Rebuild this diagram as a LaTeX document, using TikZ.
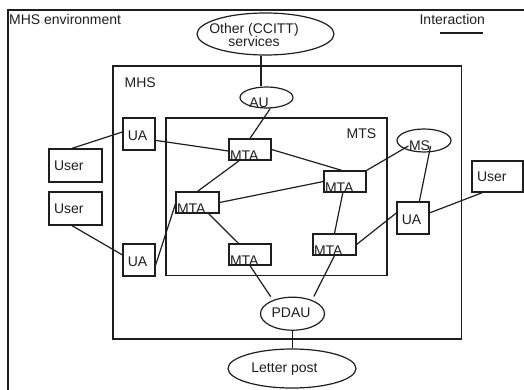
\documentclass[tikz,border=0pt]{standalone}
\usepackage{fontspec}
\setmainfont{Liberation Sans}
\usetikzlibrary{shapes.geometric,calc}
\definecolor{ink}{HTML}{1E1E1E}
\newcommand\tightlines{\fontsize{14}{13}\selectfont\lineskiplimit=-10pt\relax}
\begin{document}
\begin{tikzpicture}[x=1pt,y=-1pt,line width=1.2pt,color=ink,
  box/.style={draw,rectangle,inner sep=0pt},
  oval/.style={draw,ellipse,inner sep=0pt},
  txt/.style={inner sep=0pt,font=\fontsize{14}{14}\selectfont},
  mta/.style={box,minimum width=42pt,minimum height=21pt},
  ua/.style={box,minimum width=32pt,minimum height=32pt},
  user/.style={box,minimum width=53pt,minimum height=33pt}]
\useasboundingbox (0,0) rectangle (524,390);
\clip (0,0) rectangle (524,390);

% environment, MHS and MTS frames
\draw (8,10) rectangle (560,420);
\draw (113,66) rectangle (461.5,339);
\draw (166,118) rectangle (387,275.5);
\node[txt,anchor=base west] (envlbl) at (8.5,25) {MHS environment};
\node[txt,anchor=base west] (mhslbl) at (124,88) {MHS};
\node[txt,anchor=base west] (mtslbl) at (346,139) {MTS};

% legend
\node[txt,anchor=base west] (intlbl) at (419,25) {Interaction};
\coordinate (ia) at (440,33);
\coordinate (ib) at (483,33);
\draw (ia) -- (ib);

% oval units
\node[oval,minimum width=137pt,minimum height=42pt] (other) at (265.5,34) {};
\node[txt,align=center,font=\tightlines] (othert) at (254,35.4) {Other (CCITT)\\services};
\node[oval,minimum width=53pt,minimum height=21pt] (au) at (266.5,97.5) {};
\node[txt] (aut) at (259,103) {AU};
\node[oval,minimum width=54pt,minimum height=23pt] (ms) at (424,140.5) {};
\node[txt] (mst) at (419.5,146) {MS};
\node[oval,minimum width=64pt,minimum height=33pt] (pdau) at (292.5,313.7) {};
\node[txt] (pdaut) at (291,313) {PDAU};
\node[oval,minimum width=128pt,minimum height=39pt] (post) at (292,368.5) {};
\node[txt,anchor=base] (postt) at (284.5,372) {Letter post};

% message transfer agents
\node[mta] (m1) at (250,149.5) {};
\node[mta] (m2) at (345,181.5) {};
\node[mta,minimum width=43pt] (m3) at (197.5,202.5) {};
\node[mta,minimum width=43pt] (m4) at (334.5,244.5) {};
\node[mta] (m5) at (250,254.5) {};
\foreach \m in {m1,m2,m3,m4,m5}
  \node[txt,anchor=base west] (\m t) at ([xshift=1pt]\m.south west) {MTA};

% user agents
\node[ua] (ua1) at (139,134) {};
\node[ua] (ua2) at (139,260) {};
\node[ua] (ua3) at (413,218) {};
\foreach \u in {ua1,ua2,ua3}
  \node[txt] (\u t) at ([xshift=-1.5pt,yshift=-2pt]\u.center) {UA};

% users
\node[user] (user1) at (75.5,165.5) {};
\node[user] (user2) at (75.5,208.5) {};
\node[user,minimum width=51pt,minimum height=31pt] (user3) at (497.5,176.5) {};
\foreach \u in {user1,user2,user3}
  \node[txt,anchor=west] (\u t) at ([xshift=5pt,yshift=-0.5pt]\u.west) {User};

% interactions
\draw ([xshift=-5.5pt]au.north) -- ([xshift=-5.5pt]au.north |- other.south);
\draw (au.-71) -- (m1.north);
\draw (ua1.-21) -- (m1.-176);
\draw (user1.102) -- (ua1.173);
\draw (user2.-102) -- (ua2.163);
\draw (ua2.-17) -- (m3.-176);
\draw (m1.-134) -- (m3.north);
\draw (m1.east) -- (m2.106);
\draw (m3.east) -- (m2.west);
\draw (m3.-45) -- (m5.136);
\draw (m2.-101) -- (m4.north);
\draw (m2.north east) -- (mst.west);
\draw (mst.east) -- (ua3.69);
\draw (ua3.17) -- (user3.-133);
\draw (m4.east) -- (ua3.163);
\draw[shorten >=4pt] (m5.south) -- (pdau.145);
\draw[shorten >=4pt] (m4.south) -- (pdau.35);
\draw (pdau.south) -- (pdau.south |- post.north);
\end{tikzpicture}
\end{document}
